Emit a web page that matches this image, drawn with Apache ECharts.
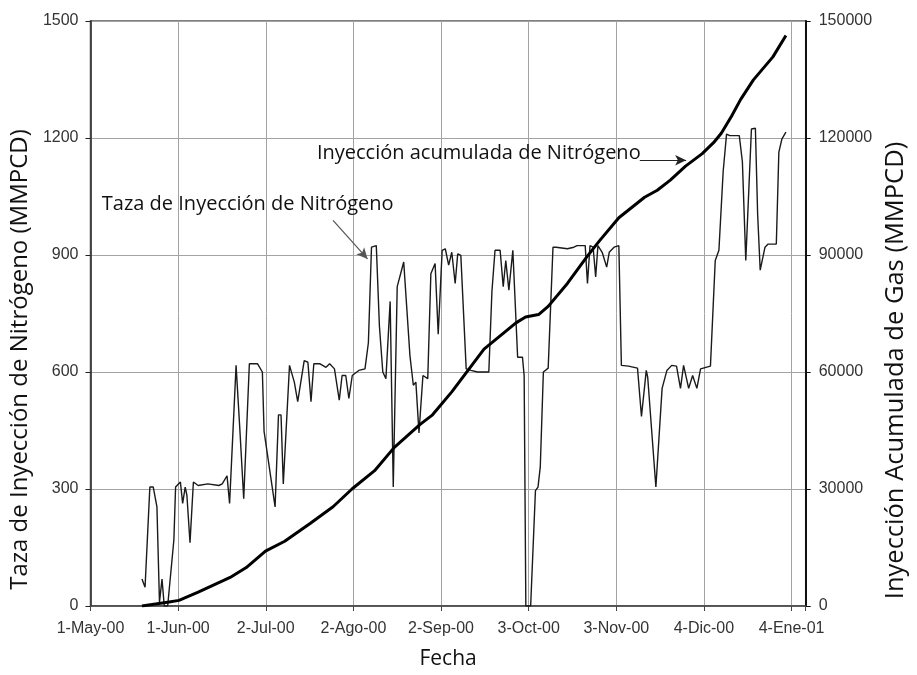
<!DOCTYPE html>
<html>
<head>
<meta charset="utf-8">
<title>Inyección de Nitrógeno</title>
<script src="https://cdn.jsdelivr.net/npm/echarts@6.0.0/dist/echarts.min.js"></script>
<style>
  html, body { margin: 0; padding: 0; background: #fff; }
  #chart { width: 917px; height: 675px; }
</style>
</head>
<body>
<div id="chart"></div>
<script>
// x values are days counted from 1-May-00, ticks every 31 days
const xTickLabels = ["1-May-00", "1-Jun-00", "2-Jul-00", "2-Ago-00", "2-Sep-00",
  "3-Oct-00", "3-Nov-00", "4-Dic-00", "4-Ene-01"];

// daily nitrogen injection rate (MMPCD), left axis
const rateDays = [18.2, 19.3, 21, 22.2, 23.5, 24.4, 25.3, 26.1, 27.3, 29.5, 30.1, 31.8, 32.6, 33.5,
  34.1, 35.2, 36.4, 38.1, 41.5, 45.4, 46.6, 48.3, 49.2, 51.5, 52.8, 54.2, 56.2, 59.1, 60.8,
  61.4, 62.1, 65.3, 66.5, 67.4, 68.2, 70.4, 72.1, 73.3, 75.6, 76.9, 78, 79, 81.2, 83.3, 84.6,
  86.3, 88, 89, 90.3, 91.4, 92.6, 94.9, 97.1, 98.3, 99.4, 101.1, 102.2, 103.4, 104.5, 106,
  107.1, 108.5, 110.8, 113, 114.2, 115.1, 116.2, 117.6, 119.3, 120.4, 121.9, 123, 124.4,
  125.5, 126.7, 127.8, 129, 129.9, 131, 132.9, 134.6, 136.9, 140.9, 142, 143.1, 144.9, 146,
  146.9, 148, 149.4, 150, 151.1, 152.8, 153.4, 154, 155.7, 157.4, 158.3, 159.1, 160.2, 161.9,
  163.6, 164.7, 168.7, 171, 172.1, 175, 175.8, 176.7, 177.8, 178.7, 179.5, 181, 182.6, 183.5,
  185.2, 186.9, 187.8, 190.3, 193.5, 194.9, 196.6, 197.1, 200, 202.2, 202.8, 203.9, 205.6,
  207.3, 208.7, 209.8, 211.6, 213, 214.5, 215.8, 219.3, 221, 222.3, 223.8, 225, 226.1, 229.5,
  230.6, 231.8, 232.3, 233.8, 235.2, 236, 236.9, 238.6, 239.7, 242.6, 243.5, 244.6, 246];
const rateValues = [69, 48, 305, 305, 254, 10, 69, 0, 0, 170, 305, 318, 263, 305,
  284, 162, 318, 309, 313, 309, 313, 334, 263, 617, 457, 275, 621, 621, 600,
  448, 448, 254, 490, 490, 313, 617, 574, 524, 629, 625, 524, 621, 621, 612, 621,
  608, 528, 591, 591, 532, 591, 604, 608, 675, 920, 924, 718, 600, 583, 781,
  305, 819, 882, 642, 566, 574, 444, 591, 583, 852, 878, 697, 912,
  916, 874, 907, 827, 903, 899, 608, 604, 600, 600, 806, 912, 912, 819,
  886, 810, 912, 907, 638, 638, 591, 0, 0, 296, 305, 356, 600, 610,
  920, 920, 916, 920, 924, 924, 827, 924, 920, 844, 924, 907, 869, 907,
  920, 924, 617, 615, 610, 486, 604, 587, 305, 558, 553, 604, 617,
  615, 558, 617, 558, 591, 558, 608, 615, 886, 912, 1114, 1210, 1206, 1206,
  1139, 886, 970, 1223, 1225, 1004, 861, 920, 928, 928, 1164, 1198, 1215];

// cumulative injected gas (MMPCD), right axis
const cumDays = [18.2, 27.8, 31.3, 38.1, 49.4, 55.1, 61.9, 68.7, 77.8, 85.8, 92.6, 100.5, 107.4,
  116.5, 121, 127.8, 139.2, 150.5, 153.9, 158.5, 161.9, 168.7, 175.5, 180.1, 186.9, 196,
  200.5, 205.1, 210.5, 216.4, 220.4, 223.2, 226.7, 230, 234.5, 241.4, 246];
const cumValues = [0, 1000, 1440, 3540, 7330, 9860, 14080, 16600, 21230, 25450, 30070, 34700, 40610,
  46500, 49020, 54910, 65880, 72600, 74120, 74720, 76820, 82710, 89450, 93680, 99560, 104800,
  106600, 109200, 112800, 116000, 118800, 121300, 125500, 129900, 134900, 140800, 146300];

const rateData = rateDays.map((d, i) => [d, rateValues[i]]);
const cumData = cumDays.map((d, i) => [d, cumValues[i]]);

const chart = echarts.init(document.getElementById("chart"));

const tickFont = { fontFamily: "Liberation Sans", fontSize: 16, color: "#333" };

chart.setOption({
  backgroundColor: "#fff",
  animation: false,
  grid: {
    left: 85, right: 90, top: 21, bottom: 61,
    show: true, borderColor: "#555", borderWidth: 1.5
  },
  xAxis: {
    type: "value",
    min: 0, max: 253, interval: 31,
    name: "Fecha", nameLocation: "middle", nameGap: 43,
    nameTextStyle: { fontFamily: "Open Sans", fontSize: 21, color: "#111" },
    axisLine: { lineStyle: { color: "#444", width: 1.5 } },
    axisTick: { length: 5, lineStyle: { color: "#444" } },
    axisLabel: Object.assign({
      margin: 15,
      formatter: v => (v % 31 === 0 ? xTickLabels[v / 31] : "")
    }, tickFont),
    splitLine: { show: true, lineStyle: { color: "#a3a3a3", width: 1 } }
  },
  yAxis: [
    {
      type: "value", position: "left",
      min: 0, max: 1500, interval: 300,
      name: "Taza de Inyección de Nitrógeno (MMPCD)",
      nameLocation: "middle", nameGap: 61, nameRotate: 90,
      nameTextStyle: {
        fontFamily: "Open Sans", fontSize: 24, color: "#111",
        align: "center", verticalAlign: "middle", padding: [0, 92, 0, 0]
      },
      axisLine: { show: true, lineStyle: { color: "#222", width: 1.5 } },
      axisTick: { show: true, length: 5, lineStyle: { color: "#222" } },
      axisLabel: Object.assign({ margin: 12, formatter: v => String(v) }, tickFont),
      splitLine: { show: true, lineStyle: { color: "#a3a3a3", width: 1 } }
    },
    {
      type: "value", position: "right",
      min: 0, max: 150000, interval: 30000,
      name: "Inyección Acumulada de Gas (MMPCD)",
      nameLocation: "middle", nameGap: 79, nameRotate: 90,
      nameTextStyle: {
        fontFamily: "Open Sans", fontSize: 25.5, color: "#111",
        align: "center", verticalAlign: "middle", padding: [0, 114, 0, 0]
      },
      axisLine: { show: true, lineStyle: { color: "#111", width: 2 } },
      axisTick: { show: true, length: 5, lineStyle: { color: "#111" } },
      axisLabel: Object.assign({ margin: 13, formatter: v => String(v) }, tickFont),
      splitLine: { show: false }
    }
  ],
  series: [
    {
      name: "Taza de Inyección de Nitrógeno",
      type: "line",
      yAxisIndex: 0,
      data: rateData,
      showSymbol: false,
      lineStyle: { color: "#1a1a1a", width: 1.4 },
      markLine: {
        silent: true,
        symbol: ["none", "arrow"],
        symbolSize: [8, 11],
        label: { show: false },
        data: [
          [{ coord: [85.8, 989], lineStyle: { color: "#555", width: 1.2, type: "solid" } },
           { coord: [98.0, 890] }],
          [{ coord: [194.3, 1143], lineStyle: { color: "#222", width: 1.2, type: "solid" } },
           { coord: [210.7, 1143] }]
        ]
      },
      z: 2
    },
    {
      name: "Inyección acumulada de Nitrógeno",
      type: "line",
      yAxisIndex: 1,
      data: cumData,
      showSymbol: false,
      lineStyle: { color: "#000", width: 3 },
      z: 3
    }
  ]
});

// annotation texts anchored in data coordinates
const notes = [
  { text: "Taza de Inyección de Nitrógeno", at: [4.0, 1029] },
  { text: "Inyección acumulada de Nitrógeno", at: [80.1, 1160] }
];
chart.setOption({
  graphic: notes.map(n => {
    const p = chart.convertToPixel({ xAxisIndex: 0, yAxisIndex: 0 }, n.at);
    return {
      type: "text", x: p[0], y: p[1], z: 10,
      style: {
        text: n.text, fill: "#111",
        font: "20px 'Open Sans'",
        verticalAlign: "middle", align: "left"
      }
    };
  })
});
</script>
</body>
</html>
